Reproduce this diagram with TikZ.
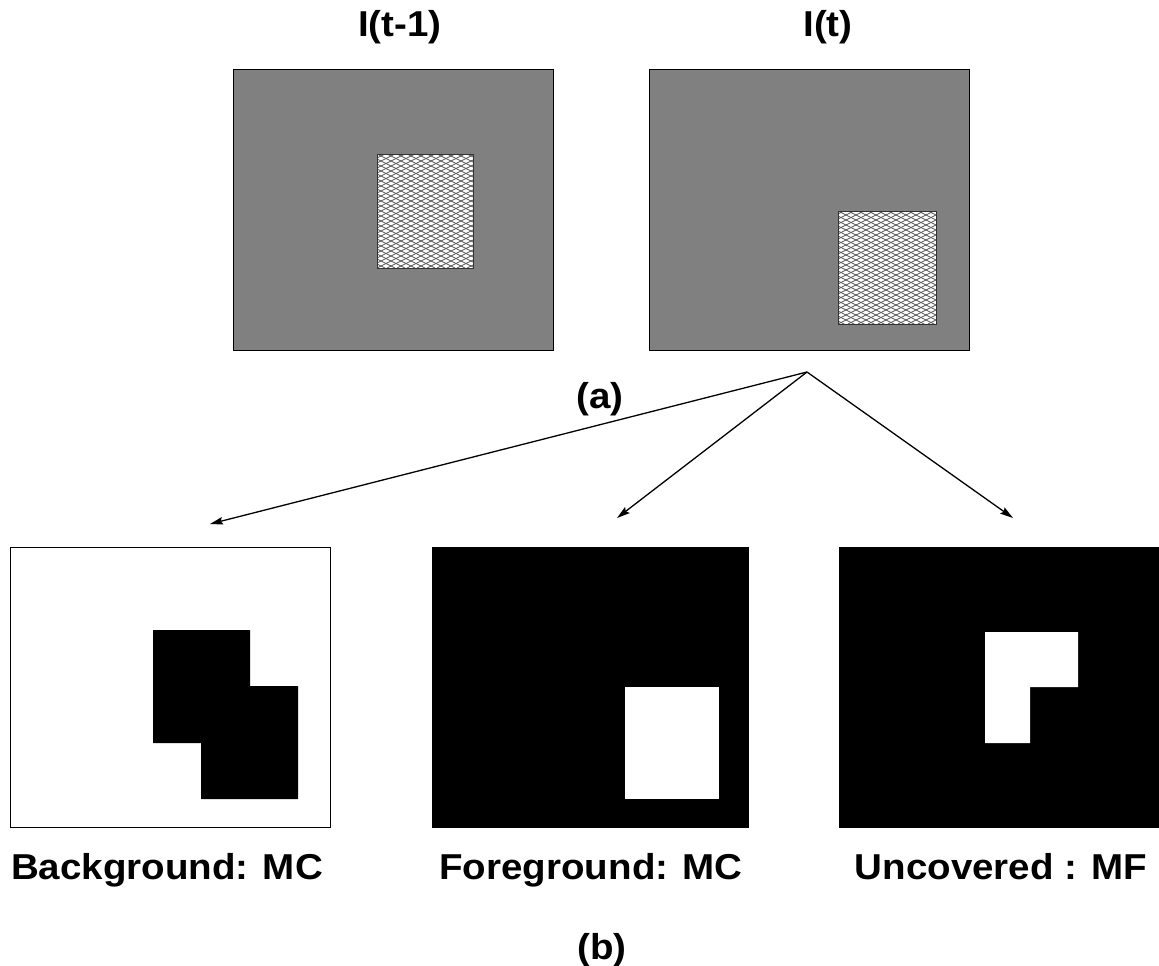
\documentclass[tikz,border=0pt]{standalone}
\usepackage{fontspec}
\setmainfont{Liberation Sans}[FakeStretch=1.07]
\usetikzlibrary{arrows.meta}
\begin{document}
\begin{tikzpicture}[x=1pt,y=-1pt,
  lbl/.style={font=\fontsize{36}{40}\selectfont\bfseries, inner sep=0pt, anchor=base},
  frame/.style={draw=black, line width=1pt, minimum width=320pt, minimum height=280pt, inner sep=0pt, outer sep=0pt},
  hatchline/.style={draw=black!65, line width=0.7pt},
  hatchbox/.style={draw=black!80, line width=0.9pt, fill=white, inner sep=0pt, outer sep=0pt,
    path picture={
      \foreach \i in {-24,...,10}{
        \draw[hatchline] ([xshift=\i*10pt]path picture bounding box.north west) -- ++(228pt,-114pt);
        \draw[hatchline] ([xshift=\i*10pt]path picture bounding box.south west) -- ++(228pt,114pt);
      }}},
  arr/.style={draw=black, line width=1.3pt, -{Stealth[length=13pt,width=7.5pt,inset=2pt]}}]
\useasboundingbox (0,0) rectangle (1159,966);

% titles
\node[lbl] (tprev) at (400,37) {I(t-1)};
\node[lbl] (tcur) at (828,37) {I(t)};

% top frames
\node[frame, fill=black!50] (prev) at (393,210) {};
\node[frame, fill=black!50] (cur) at (809,210) {};
\node[hatchbox, minimum width=96pt, minimum height=114pt] (objprev) at (425,211) {};
\node[hatchbox, minimum width=98pt, minimum height=113pt] (objcur) at (887,267.5) {};

\node[lbl] (la) at (600,408) {(a)};

% arrows
\coordinate (src) at (807,372);
\coordinate (eb) at (210,524);
\coordinate (ef) at (617,518);
\coordinate (eu) at (1013,518);
\draw[arr] (src) -- (eb);
\draw[arr] (src) -- (ef);
\draw[arr] (src) -- (eu);

% bottom frames
\node[frame, fill=white] (bg) at (170,687) {};
\fill[black] (153,630) -- (250,630) -- (250,686) -- (298,686) -- (298,799) -- (201,799) -- (201,743) -- (153,743) -- cycle;

\node[frame, fill=black, minimum width=316pt] (fg) at (590,687) {};
\fill[white] (625,687) rectangle (719,799);

\node[frame, fill=black] (uc) at (999,687) {};
\fill[white] (985,632) -- (1078,632) -- (1078,687) -- (1030,687) -- (1030,743) -- (985,743) -- cycle;

% labels
\node[lbl] (lbg) at (167,879) {Background: MC};
\node[lbl] (lfg) at (591,879) {Foreground: MC};
\node[lbl] (luc) at (1001,879) {Uncovered : MF};
\node[lbl] (lb) at (602,959) {(b)};
\end{tikzpicture}
\end{document}
